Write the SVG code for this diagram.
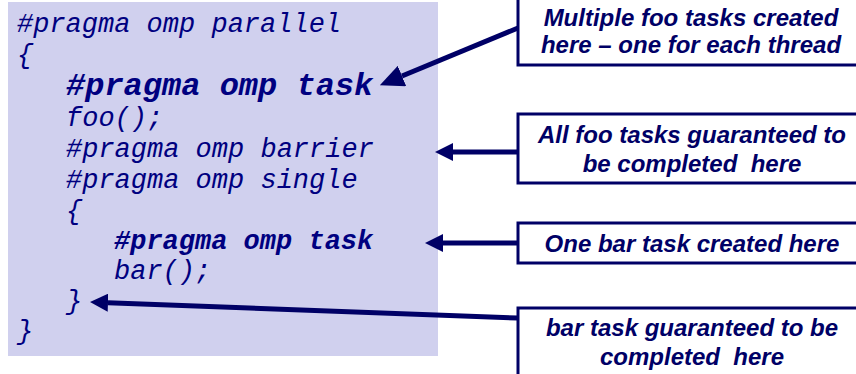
<svg xmlns="http://www.w3.org/2000/svg" width="856" height="374" viewBox="0 0 856 374">
<style>
.code{font-family:"Liberation Mono","Courier New",monospace;font-style:italic;font-size:27px;fill:#000080;white-space:pre}
.bold{font-weight:bold}
.big{font-size:32px}
.box{fill:#ffffff;stroke:#000066;stroke-width:3}
.lbl{font-family:"Liberation Sans",Arial,sans-serif;font-style:italic;font-weight:bold;font-size:24px;fill:#000066;text-anchor:middle;white-space:pre}
.arr{stroke:#000066;stroke-width:5;fill:none}
</style>
<defs>
<marker id="head" markerUnits="userSpaceOnUse" viewBox="0 0 18 18" refX="0" refY="9" markerWidth="18" markerHeight="18" orient="auto">
<path d="M0,0 L18,9 L0,18 Z" fill="#000066"/>
</marker>
<marker id="headBig" markerUnits="userSpaceOnUse" viewBox="0 0 24 22" refX="0" refY="11" markerWidth="24" markerHeight="22" orient="auto">
<path d="M0,0 L24,11 L0,22 Z" fill="#000066"/>
</marker>
</defs>
<g id="code-panel">
<rect x="8" y="2" width="430" height="354" fill="#d0d0ee"/>
<text class="code" x="17" y="32">#pragma omp parallel</text>
<text class="code" x="17" y="63">{</text>
<text class="code bold big" x="66" y="95">#pragma omp task</text>
<text class="code" x="66" y="126">foo();</text>
<text class="code" x="66" y="157">#pragma omp barrier</text>
<text class="code" x="66" y="188">#pragma omp single</text>
<text class="code" x="66" y="219">{</text>
<text class="code bold" x="114" y="249">#pragma omp task</text>
<text class="code" x="114" y="279">bar();</text>
<text class="code" x="66" y="309">}</text>
<text class="code" x="17" y="339">}</text>
</g>
<g id="callout-1">
<rect class="box" x="518" y="-5" width="342" height="70"/>
<text class="lbl" x="691" y="26">Multiple foo tasks created</text>
<text class="lbl" x="691" y="53">here – one for each thread</text>
</g>
<g id="callout-2">
<rect class="box" x="518" y="114" width="342" height="69"/>
<text class="lbl" x="692" y="143">All foo tasks guaranteed to</text>
<text class="lbl" x="692" y="172">be completed  here</text>
</g>
<g id="callout-3">
<rect class="box" x="518" y="223" width="342" height="40"/>
<text class="lbl" x="692" y="252">One bar task created here</text>
</g>
<g id="callout-4">
<rect class="box" x="518" y="308" width="342" height="80"/>
<text class="lbl" x="692" y="336">bar task guaranteed to be</text>
<text class="lbl" x="692" y="365">completed  here</text>
</g>
<g id="connectors">
<line class="arr" x1="518" y1="28" x2="402" y2="76" marker-end="url(#headBig)"/>
<line class="arr" x1="518" y1="152" x2="453" y2="152" marker-end="url(#head)"/>
<line class="arr" x1="518" y1="243" x2="443" y2="243" marker-end="url(#head)"/>
<line class="arr" x1="518" y1="318" x2="108" y2="302.7" marker-end="url(#head)"/>
</g>
</svg>
